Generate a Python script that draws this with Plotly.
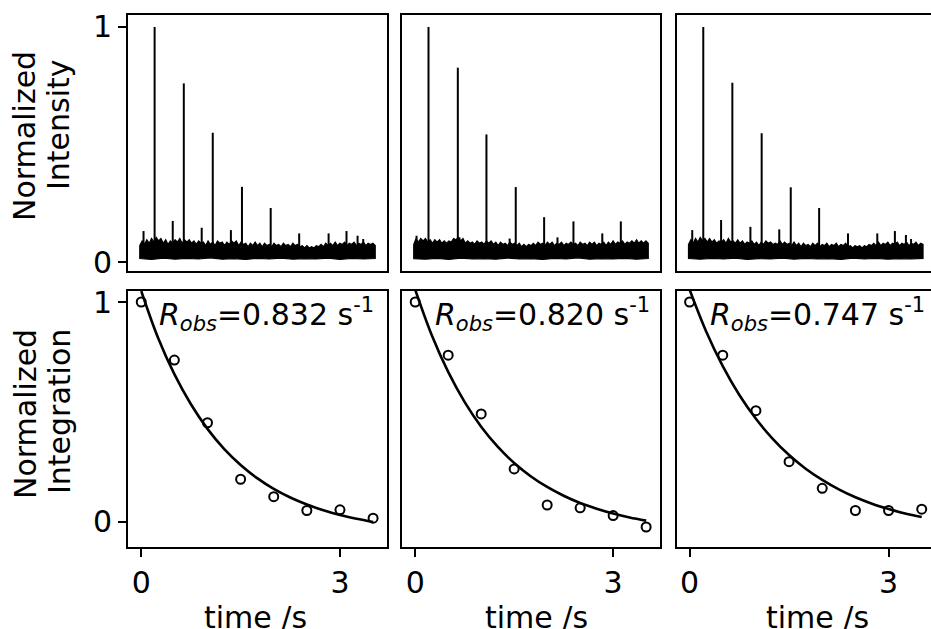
import plotly.graph_objects as go

FONT = "DejaVu Sans"

# ---------------- data ----------------
# top row: spectra (arbitrary point index along the spectrum)
noise_x = list(range(0, 1001, 10))
noise_low_x = list(range(0, 1001, 50))

noise_up_1 = [0.07, 0.09, 0.075, 0.095, 0.08, 0.10, 0.085, 0.105, 0.09, 0.10,
              0.08, 0.095, 0.075, 0.09, 0.08, 0.095, 0.085, 0.10, 0.08, 0.095,
              0.085, 0.095, 0.08, 0.09, 0.075, 0.09, 0.08, 0.085, 0.07, 0.09,
              0.075, 0.085, 0.07, 0.09, 0.08, 0.085, 0.07, 0.085, 0.075, 0.09,
              0.08, 0.09, 0.07, 0.085, 0.075, 0.08, 0.065, 0.08, 0.07, 0.085,
              0.07, 0.08, 0.065, 0.08, 0.07, 0.075, 0.065, 0.08, 0.07, 0.075,
              0.065, 0.08, 0.07, 0.075, 0.065, 0.08, 0.07, 0.075, 0.065, 0.07,
              0.06, 0.07, 0.06, 0.065, 0.06, 0.07, 0.065, 0.075, 0.065, 0.08,
              0.07, 0.08, 0.07, 0.085, 0.07, 0.08, 0.075, 0.085, 0.07, 0.08,
              0.075, 0.085, 0.07, 0.08, 0.075, 0.085, 0.07, 0.08, 0.075, 0.08,
              0.07]
noise_up_2 = [0.075, 0.10, 0.085, 0.10, 0.09, 0.10, 0.085, 0.095, 0.08, 0.095,
              0.085, 0.095, 0.08, 0.09, 0.08, 0.09, 0.085, 0.10, 0.095, 0.105,
              0.09, 0.10, 0.08, 0.09, 0.08, 0.085, 0.075, 0.09, 0.08, 0.085,
              0.075, 0.09, 0.08, 0.09, 0.075, 0.085, 0.07, 0.085, 0.075, 0.08,
              0.07, 0.085, 0.075, 0.08, 0.07, 0.08, 0.065, 0.075, 0.065, 0.075,
              0.07, 0.08, 0.07, 0.085, 0.075, 0.08, 0.07, 0.085, 0.075, 0.085,
              0.07, 0.08, 0.075, 0.085, 0.07, 0.08, 0.075, 0.085, 0.075, 0.08,
              0.07, 0.085, 0.075, 0.08, 0.07, 0.085, 0.075, 0.085, 0.07, 0.08,
              0.075, 0.085, 0.07, 0.085, 0.075, 0.09, 0.075, 0.085, 0.08, 0.09,
              0.075, 0.085, 0.08, 0.09, 0.08, 0.095, 0.08, 0.09, 0.08, 0.09,
              0.08]
noise_up_3 = [0.075, 0.095, 0.08, 0.10, 0.085, 0.105, 0.09, 0.10, 0.085, 0.10,
              0.085, 0.095, 0.08, 0.09, 0.085, 0.095, 0.08, 0.10, 0.085, 0.09,
              0.08, 0.095, 0.08, 0.09, 0.075, 0.085, 0.08, 0.09, 0.075, 0.085,
              0.07, 0.085, 0.075, 0.09, 0.08, 0.085, 0.075, 0.08, 0.075, 0.09,
              0.075, 0.085, 0.075, 0.08, 0.07, 0.085, 0.07, 0.08, 0.065, 0.08,
              0.07, 0.075, 0.065, 0.08, 0.07, 0.08, 0.065, 0.075, 0.07, 0.08,
              0.065, 0.075, 0.07, 0.08, 0.065, 0.075, 0.07, 0.08, 0.065, 0.07,
              0.06, 0.07, 0.065, 0.07, 0.06, 0.07, 0.065, 0.075, 0.07, 0.08,
              0.07, 0.085, 0.07, 0.08, 0.075, 0.085, 0.07, 0.08, 0.075, 0.085,
              0.07, 0.08, 0.075, 0.085, 0.07, 0.08, 0.075, 0.085, 0.07, 0.08,
              0.075]
noise_low_1 = [0.015, 0.011, 0.017, 0.012, 0.016, 0.013, 0.018, 0.012, 0.015, 0.011, 0.016,
               0.013, 0.017, 0.012, 0.015, 0.013, 0.017, 0.011, 0.016, 0.013, 0.015]
noise_low_2 = [0.014, 0.012, 0.016, 0.011, 0.017, 0.013, 0.015, 0.012, 0.017, 0.013, 0.015,
               0.011, 0.016, 0.013, 0.018, 0.012, 0.015, 0.013, 0.016, 0.012, 0.015]
noise_low_3 = [0.015, 0.012, 0.016, 0.013, 0.017, 0.011, 0.015, 0.013, 0.017, 0.012, 0.016,
               0.013, 0.015, 0.011, 0.017, 0.013, 0.016, 0.012, 0.015, 0.013, 0.016]

peak_pos_1 = [63, 187, 310, 434, 556]
peak_h_1 = [1.0, 0.76, 0.55, 0.32, 0.23]
minor_pos_1 = [16, 140, 263, 387, 677, 802, 878, 925, 949]
minor_h_1 = [0.132, 0.175, 0.146, 0.136, 0.122, 0.122, 0.132, 0.112, 0.098]

peak_pos_2 = [63, 188, 310, 435, 556, 681, 883]
peak_h_2 = [1.0, 0.827, 0.543, 0.319, 0.191, 0.173, 0.173]
minor_pos_2 = [12, 195, 409, 613, 804]
minor_h_2 = [0.112, 0.105, 0.10, 0.105, 0.122]

peak_pos_3 = [63, 187, 312, 436, 557]
peak_h_3 = [1.0, 0.763, 0.548, 0.318, 0.23]
minor_pos_3 = [16, 139, 264, 387, 680, 805, 880, 927, 949]
minor_h_3 = [0.136, 0.179, 0.15, 0.139, 0.122, 0.122, 0.132, 0.115, 0.098]

# bottom row: integrations vs time
time_s = [0, 0.5, 1.0, 1.5, 2.0, 2.5, 3.0, 3.5]
integ_1 = [1.0, 0.736, 0.451, 0.194, 0.115, 0.052, 0.055, 0.017]
integ_2 = [1.0, 0.758, 0.491, 0.241, 0.077, 0.064, 0.029, -0.023]
integ_3 = [1.0, 0.758, 0.506, 0.274, 0.153, 0.052, 0.052, 0.058]

fit_t = [0, 0.25, 0.5, 0.75, 1.0, 1.25, 1.5, 1.75, 2.0, 2.25, 2.5, 2.75, 3.0, 3.25, 3.5]
fit_1 = [1.05, 0.84, 0.672, 0.535, 0.423, 0.332, 0.259, 0.199, 0.15, 0.111, 0.079, 0.053, 0.031, 0.014, 0.0]
fit_2 = [1.056, 0.85, 0.682, 0.545, 0.433, 0.342, 0.268, 0.208, 0.159, 0.119, 0.086, 0.06, 0.038, 0.02, 0.006]
fit_3 = [1.056, 0.866, 0.708, 0.577, 0.469, 0.379, 0.304, 0.242, 0.191, 0.148, 0.112, 0.083, 0.059, 0.038, 0.022]

rates = ["0.832", "0.820", "0.747"]

spike_base = 0.04

# ---------------- figure ----------------
fig = go.Figure()

spectra = [
    (noise_up_1, noise_low_1, peak_pos_1 + minor_pos_1, peak_h_1 + minor_h_1),
    (noise_up_2, noise_low_2, peak_pos_2 + minor_pos_2, peak_h_2 + minor_h_2),
    (noise_up_3, noise_low_3, peak_pos_3 + minor_pos_3, peak_h_3 + minor_h_3),
]
for i, (up, low, pos, hts) in enumerate(spectra):
    xa = "x" if i == 0 else f"x{i+1}"
    ya = "y" if i == 0 else f"y{i+1}"
    px = noise_x + noise_low_x[::-1] + [noise_x[0]]
    py = up + low[::-1] + [up[0]]
    fig.add_trace(go.Scatter(x=px, y=py, mode="lines", fill="toself", fillcolor="black",
                             line=dict(color="black", width=1.2), xaxis=xa, yaxis=ya,
                             showlegend=False, hoverinfo="skip"))
    sx, sy = [], []
    for p, h in zip(pos, hts):
        sx += [p, p, None]
        sy += [spike_base, h, None]
    fig.add_trace(go.Scatter(x=sx, y=sy, mode="lines", line=dict(color="black", width=2),
                             xaxis=xa, yaxis=ya, showlegend=False, hoverinfo="skip"))

for i, (ys, fy) in enumerate([(integ_1, fit_1), (integ_2, fit_2), (integ_3, fit_3)]):
    xa = f"x{i+4}"
    ya = f"y{i+4}"
    fig.add_trace(go.Scatter(x=fit_t, y=fy, mode="lines", line=dict(color="black", width=2.6, shape="spline"),
                             xaxis=xa, yaxis=ya, showlegend=False))
    fig.add_trace(go.Scatter(x=time_s, y=ys, mode="markers",
                             marker=dict(symbol="circle-open", size=9, color="black", line=dict(width=2, color="black")),
                             xaxis=xa, yaxis=ya, showlegend=False, cliponaxis=False))

W, H = 931, 629
ML, MR, MT, MB = 128, 0, 15, 82
PW = W - ML - MR
PH = H - MT - MB

def xd(a, b):
    return [(a - ML) / PW, min(1.0, (b - ML) / PW)]

def yd(top, bot):
    return [(H - MB - bot) / PH, (H - MB - top) / PH]

cols = [xd(128, 387), xd(402, 660), xd(677, 931)]
top_dom = yd(15, 271)
bot_dom = yd(291, 547)

base_ax = dict(showline=True, linecolor="black", linewidth=2, mirror=True, showgrid=False,
               zeroline=False, ticks="outside", ticklen=8, tickwidth=2, tickcolor="black",
               tickfont=dict(size=30, family=FONT, color="black"))

layout_axes = {}
top_xr = [[-50, 1050], [-50, 1050], [-49, 1034]]
bot_xr = [[-0.2, 3.71], [-0.2, 3.71], [-0.19, 3.64]]
for i in range(3):
    n = "" if i == 0 else str(i + 1)
    layout_axes[f"xaxis{n}"] = dict(base_ax, domain=cols[i], range=top_xr[i], anchor=f"y{n}",
                                    ticks="", showticklabels=False)
    ya = dict(base_ax, domain=top_dom, range=[-0.038, 1.051], anchor=f"x{n}")
    if i == 0:
        ya.update(tickvals=[0, 1], ticktext=["0", "1"])
    else:
        ya.update(ticks="", showticklabels=False)
    if i == 2:
        ya.update(mirror=False)
    layout_axes[f"yaxis{n}"] = ya
    m = str(i + 4)
    layout_axes[f"xaxis{m}"] = dict(base_ax, domain=cols[i], range=bot_xr[i], anchor=f"y{m}",
                                    tickvals=[0, 3], ticktext=["0", "3"])
    yb = dict(base_ax, domain=bot_dom, range=[-0.114, 1.05], anchor=f"x{m}")
    if i == 0:
        yb.update(tickvals=[0, 1], ticktext=["0", "1"])
    else:
        yb.update(ticks="", showticklabels=False)
    if i == 2:
        yb.update(mirror=False)
    layout_axes[f"yaxis{m}"] = yb

def px2paper_x(px):
    return (px - ML) / PW

def px2paper_y(py):
    return (H - MB - py) / PH

annots = []
for txt, cx, cy in [("Normalized", 25, 136), ("Intensity", 59, 125),
                    ("Normalized", 25, 414), ("Integration", 59, 412)]:
    annots.append(dict(text=txt, x=px2paper_x(cx), y=px2paper_y(cy), xref="paper", yref="paper",
                       xanchor="center", yanchor="middle", textangle=-90, showarrow=False,
                       font=dict(size=30, family=FONT, color="black")))
for cx in [255, 536, 817]:
    annots.append(dict(text="time /s", x=px2paper_x(cx), y=px2paper_y(617), xref="paper", yref="paper",
                       xanchor="center", yanchor="middle", showarrow=False,
                       font=dict(size=30, family=FONT, color="black")))
for i, r in enumerate(rates):
    left = [157, 433, 708][i]
    annots.append(dict(text=f"<i>R</i><sub><i>obs</i></sub>=" + r + " s<sup>-1</sup>",
                       x=px2paper_x(left), y=px2paper_y(314), xref="paper", yref="paper",
                       xanchor="left", yanchor="middle", showarrow=False,
                       font=dict(size=30, family=FONT, color="black")))

fig.update_layout(width=W, height=H, margin=dict(l=ML, r=MR, t=MT, b=MB),
                  paper_bgcolor="white", plot_bgcolor="white",
                  font=dict(family=FONT, color="black"),
                  annotations=annots, **layout_axes)

fig.write_html("out.html")
